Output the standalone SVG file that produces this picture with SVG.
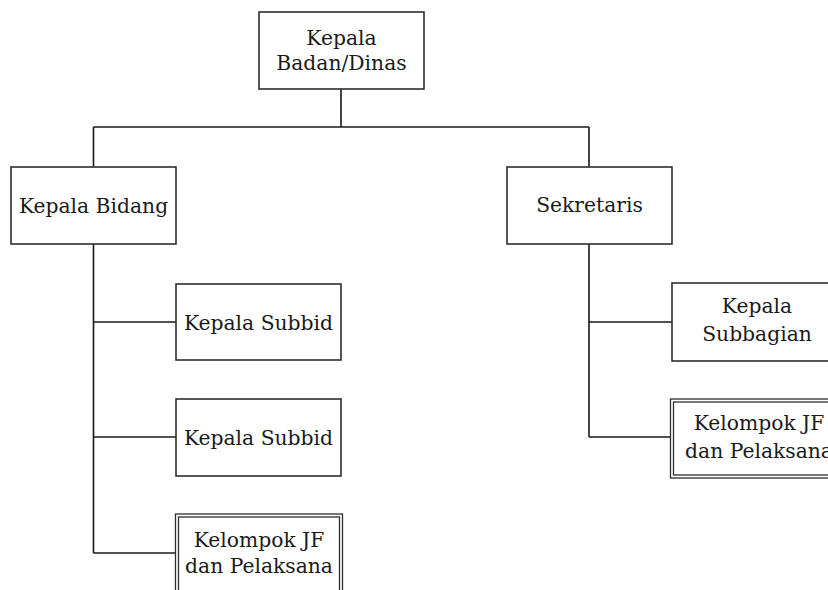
<svg xmlns="http://www.w3.org/2000/svg" width="828" height="590" viewBox="0 0 828 590">
  <style>
    .box { fill: #ffffff; stroke: #2e2e2e; stroke-width: 1.6; }
    .dbl { fill: none; stroke: #2e2e2e; stroke-width: 1.3; }
    .lbl { font-family: "DejaVu Serif", "Liberation Serif", serif; font-size: 20.3px; fill: #1a1a1a; text-anchor: middle; }
    .wire { fill: none; stroke: #1a1a1a; stroke-width: 1.6; }
  </style>
  <rect width="828" height="590" fill="#ffffff"/>

  <g id="connectors">
    <path class="wire" d="M341,89 V127 M93.5,127 H589 M93.5,127 V167 M589,127 V167"/>
    <path class="wire" d="M93.5,244 V553 M93.5,322 H176 M93.5,437 H176 M93.5,553 H176"/>
    <path class="wire" d="M589,244 V437 M589,322 H672 M589,437 H671"/>
  </g>

  <g id="kepala-badan">
    <rect class="box" x="259" y="12" width="165" height="77"/>
    <text class="lbl" x="341.5" y="45">Kepala</text>
    <text class="lbl" x="341.5" y="70">Badan/Dinas</text>
  </g>

  <g id="kepala-bidang">
    <rect class="box" x="11" y="167" width="165" height="77"/>
    <text class="lbl" x="93.5" y="213">Kepala Bidang</text>
  </g>

  <g id="sekretaris">
    <rect class="box" x="507" y="167" width="165" height="77"/>
    <text class="lbl" x="589.5" y="212">Sekretaris</text>
  </g>

  <g id="kepala-subbid-1">
    <rect class="box" x="176" y="284" width="165" height="76"/>
    <text class="lbl" x="258.5" y="330">Kepala Subbid</text>
  </g>

  <g id="kepala-subbid-2">
    <rect class="box" x="176" y="399" width="165" height="77"/>
    <text class="lbl" x="258.5" y="445">Kepala Subbid</text>
  </g>

  <g id="kelompok-jf-bidang">
    <rect class="dbl" x="175.5" y="514" width="167" height="90"/>
    <rect class="dbl" x="178.5" y="517" width="161" height="90"/>
    <text class="lbl" x="259" y="547">Kelompok JF</text>
    <text class="lbl" x="259" y="573">dan Pelaksana</text>
  </g>

  <g id="kepala-subbagian">
    <rect class="box" x="672" y="283" width="180" height="78"/>
    <text class="lbl" x="757" y="313">Kepala</text>
    <text class="lbl" x="757" y="341">Subbagian</text>
  </g>

  <g id="kelompok-jf-sekretariat">
    <rect class="dbl" x="670.5" y="399" width="180" height="79"/>
    <rect class="dbl" x="673.5" y="402" width="180" height="73"/>
    <text class="lbl" x="759" y="430">Kelompok JF</text>
    <text class="lbl" x="759" y="458">dan Pelaksana</text>
  </g>
</svg>
